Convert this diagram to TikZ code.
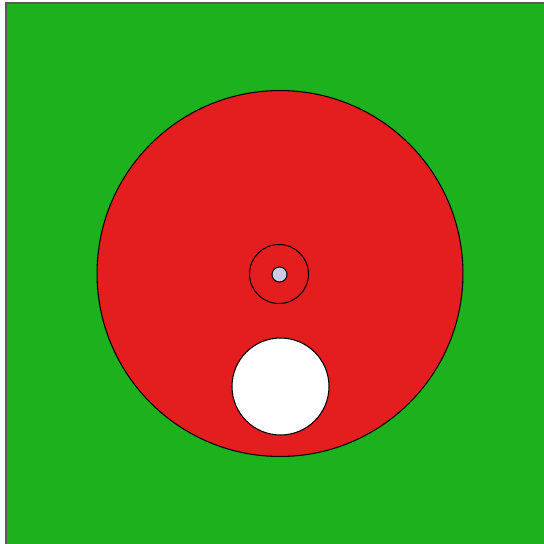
\documentclass[tikz,border=0pt]{standalone}
\usepackage{xcolor}
\usepackage{tikz}
\usetikzlibrary{positioning}

\definecolor{fieldgreen}{HTML}{1DB11D}
\definecolor{discred}{HTML}{E41E1E}
\definecolor{dotgrey}{HTML}{C9CCE2}

\begin{document}
\begin{tikzpicture}[
    x=0.02cm, y=-0.02cm,
    disc/.style={draw=black, circle, inner sep=0pt, line width=0.6pt},
    field/.style={fill=fieldgreen, draw=black!65, line width=1pt}
]
% --- CANVAS ---
\useasboundingbox (0,0) rectangle (544,544);
\clip (0,0) rectangle (544,544);
\fill[white] (0,0) rectangle (544,544);
\draw[field] (6,3) rectangle (545,545);

% --- DISCS ---
\node[disc, fill=discred, minimum size=7.32cm] (big) at (280,273.5) {};
\node[disc, minimum size=1.18cm] (ring) at (279,274) {};
\node[disc, fill=dotgrey, minimum size=0.3cm] (dot) at (279.5,274.5) {};
\node[disc, fill=white, minimum size=1.94cm] (hole) at (280.5,386.5) {};
\end{tikzpicture}
\end{document}
